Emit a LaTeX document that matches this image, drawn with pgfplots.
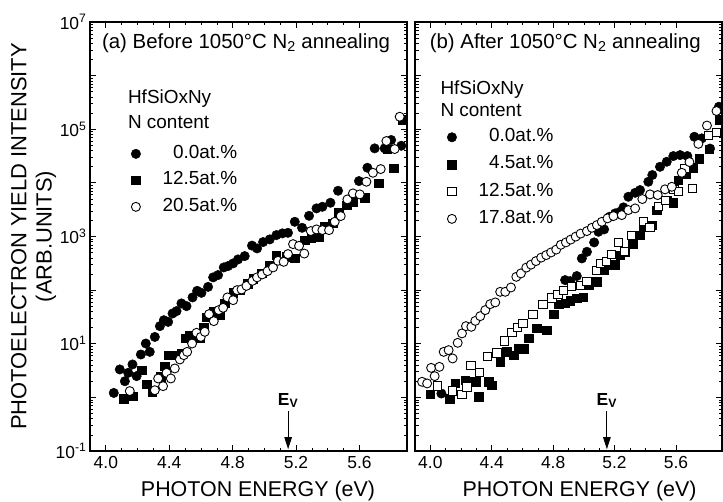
\documentclass[border=0pt]{standalone}
\usepackage{fontspec}
\setmainfont{Liberation Sans}
\usepackage{pgfplots}
\pgfplotsset{compat=1.18}
\usetikzlibrary{arrows.meta}

\pgfplotsset{
  fcirc/.style={only marks, mark=*, mark size=4.7bp, mark options={draw=black, fill=black, line width=0.5pt}},
  ocirc/.style={only marks, mark=*, mark size=4.5bp, mark options={draw=black, fill=white, line width=0.9pt}},
  fsq/.style={only marks, mark=square*, mark size=4.3bp, mark options={draw=black, fill=black, line width=0.5pt}},
  osq/.style={only marks, mark=square*, mark size=4.1bp, mark options={draw=black, fill=white, line width=0.9pt}},
}

\begin{document}
\begin{tikzpicture}
% ---------------- panel (a) ----------------
\begin{axis}[
    scale only axis, height=429bp, width=317bp,
    ymode=log, xmin=3.9, xmax=5.9, ymin=1e-1, ymax=1e7,
    xtick={4.0,4.4,4.8,5.2,5.6}, xticklabels={4.0,4.4,4.8,5.2,5.6},
    minor x tick num=3,
    ytick={1e-1,1,10,100,1e3,1e4,1e5,1e6,1e7},
    minor ytick={0.2,0.3,0.4,0.5,0.6,0.7,0.8,0.9,
                 2,3,4,5,6,7,8,9,
                 20,30,40,50,60,70,80,90,
                 200,300,400,500,600,700,800,900,
                 2000,3000,4000,5000,6000,7000,8000,9000,
                 2e4,3e4,4e4,5e4,6e4,7e4,8e4,9e4,
                 2e5,3e5,4e5,5e5,6e5,7e5,8e5,9e5,
                 2e6,3e6,4e6,5e6,6e6,7e6,8e6,9e6},
    tick align=inside, tick pos=both,
    major tick length=6bp, minor tick length=3.5bp,
    axis line style={line width=1.1pt},
    every tick/.style={black, line width=0.8pt},
    every minor tick/.style={black, line width=0.6pt},
    tick label style={font=\fontsize{17.5}{17.5}\selectfont},
    xticklabel style={yshift=-2bp},
    yticklabels={10\textsuperscript{-1},,10\textsuperscript{1},,10\textsuperscript{3},,10\textsuperscript{5},,10\textsuperscript{7}},
    xlabel={PHOTON ENERGY (eV)},
    xlabel style={at={(axis description cs:0.53,-0.107)}, anchor=base, font=\fontsize{21.5}{21.5}\selectfont, inner sep=0pt},
    ylabel={PHOTOELECTRON YIELD INTENSITY\\(ARB.UNITS)},
    ylabel style={at={(axis description cs:-0.106,0.5)}, anchor=south, align=center,
      font=\fontsize{22}{25.5}\selectfont, inner sep=0pt},
    legend cell align=left,
    legend style={at={(axis cs:4.16,5.01e4)}, draw=none, fill=none, inner sep=0pt, outer sep=0pt,
      anchor=north west, row sep=9.5bp, column sep=22bp,
      font=\fontsize{19}{19}\selectfont,
      nodes={inner sep=0pt, text height=13bp, text depth=4bp}},
    /pgf/number format/assume math mode=true,
]
\addplot[fcirc] coordinates {
(4.050,1.21) (4.088,3.32) (4.120,2.0) (4.141,2.87) (4.168,4.11) (4.194,2.49)
(4.221,6.31) (4.252,10.1) (4.277,7.06) (4.309,13.4) (4.341,21.3) (4.366,27.5)
(4.393,25.6) (4.421,36.7) (4.446,40.6) (4.477,56.5) (4.509,50.3) (4.547,73.1)
(4.576,97) (4.603,89) (4.645,115) (4.677,173) (4.708,191) (4.744,265) (4.771,281)
(4.803,315) (4.834,374) (4.876,431) (4.922,676) (4.954,600) (4.992,787) (5.034,883)
(5.076,1062) (5.114,1143) (5.149,1172) (5.192,1880) (5.238,1453) (5.282,2432)
(5.329,3342) (5.366,3581) (5.417,4256) (5.465,7126) (5.597,10800) (5.650,19140)
(5.696,44000) (5.759,44000) (5.800,63000) (5.864,49200)
};
\addlegendentry{\phantom{1}0.0at.\%}
\addplot[fsq] coordinates {
(4.113,0.95) (4.172,1.05) (4.225,3.22) (4.257,1.76) (4.294,1.27) (4.347,2.41)
(4.372,3.82) (4.393,6.13) (4.424,6.13) (4.477,6.59) (4.503,12.6) (4.530,14.5)
(4.593,12.6) (4.618,20.1) (4.637,31.3) (4.677,39.4) (4.719,34.2) (4.750,56.5) (4.803,89)
(4.845,100) (4.897,133) (4.929,165) (4.982,205) (5.030,290) (5.076,450) (5.143,418)
(5.192,390) (5.255,857) (5.297,922) (5.345,962) (5.381,1563) (5.433,1755)
(5.471,2768) (5.518,3853) (5.559,4440) (5.633,5275) (5.721,9790) (5.776,42200)
(5.818,18660) (5.875,148500)
};
\addlegendentry{12.5at.\%}
\addplot[ocirc] coordinates {
(4.151,1.31) (4.309,1.36) (4.330,2.25) (4.361,1.62) (4.383,2.87) (4.410,2.25)
(4.435,3.46) (4.467,5.09) (4.492,6.13) (4.513,7.06) (4.544,10.1) (4.572,16.0)
(4.599,13.4) (4.624,16.7) (4.651,35.7) (4.681,26.4) (4.712,42.4) (4.740,46.8)
(4.767,73.1) (4.803,65) (4.828,100) (4.856,103) (4.887,120) (4.925,149)
(4.954,173) (4.986,196) (5.020,226) (5.055,265) (5.086,352) (5.122,337)
(5.149,470) (5.181,721) (5.219,670) (5.252,480) (5.293,1262) (5.329,1356)
(5.366,1316) (5.408,1316) (5.444,1880) (5.482,2403) (5.524,4920) (5.559,6370)
(5.602,6100) (5.644,10490) (5.685,15420) (5.734,18080) (5.770,60250)
(5.822,42730) (5.854,171000)
};
\addlegendentry{20.5at.\%}
\node[anchor=base west, font=\fontsize{20.5}{20.5}\selectfont, inner sep=0pt]
  at (axis cs:3.975,3.27e6) {(a) Before 1050°C N\textsubscript{2} annealing};
\node[anchor=base west, font=\fontsize{19}{19}\selectfont, inner sep=0pt]
  at (axis cs:4.139,3.04e5) {HfSiOxNy};
\node[anchor=base west, font=\fontsize{19}{19}\selectfont, inner sep=0pt]
  at (axis cs:4.139,1.05e5) {N content};
\node[anchor=base, font=\bfseries\fontsize{17.5}{17.5}\selectfont, inner sep=0pt]
  at (axis cs:5.15,0.715) {E\textsubscript{V}};
\draw[-{Triangle[length=12bp,width=7.5bp]}, line width=0.9pt]
  (axis cs:5.15,0.553) -- (axis cs:5.15,0.108);
\end{axis}

% ---------------- panel (b) ----------------
\begin{axis}[at={(325bp,0)}, anchor=south west,
    scale only axis, height=429bp, width=307bp,
    ymode=log, xmin=3.9, xmax=5.9, ymin=1e-1, ymax=1e7,
    xtick={4.0,4.4,4.8,5.2,5.6}, xticklabels={4.0,4.4,4.8,5.2,5.6},
    minor x tick num=3,
    ytick={1e-1,1,10,100,1e3,1e4,1e5,1e6,1e7},
    minor ytick={0.2,0.3,0.4,0.5,0.6,0.7,0.8,0.9,
                 2,3,4,5,6,7,8,9,
                 20,30,40,50,60,70,80,90,
                 200,300,400,500,600,700,800,900,
                 2000,3000,4000,5000,6000,7000,8000,9000,
                 2e4,3e4,4e4,5e4,6e4,7e4,8e4,9e4,
                 2e5,3e5,4e5,5e5,6e5,7e5,8e5,9e5,
                 2e6,3e6,4e6,5e6,6e6,7e6,8e6,9e6},
    tick align=inside, tick pos=both,
    major tick length=6bp, minor tick length=3.5bp,
    axis line style={line width=1.1pt},
    every tick/.style={black, line width=0.8pt},
    every minor tick/.style={black, line width=0.6pt},
    tick label style={font=\fontsize{17.5}{17.5}\selectfont},
    xticklabel style={yshift=-2bp},
    yticklabels={},
    xlabel={PHOTON ENERGY (eV)},
    xlabel style={at={(axis description cs:0.536,-0.107)}, anchor=base, font=\fontsize{21.5}{21.5}\selectfont, inner sep=0pt},
    legend cell align=left,
    legend style={at={(axis cs:4.11,1.02e5)}, draw=none, fill=none, inner sep=0pt, outer sep=0pt,
      anchor=north west, row sep=10.2bp, column sep=22bp,
      font=\fontsize{19}{19}\selectfont,
      nodes={inner sep=0pt, text height=13bp, text depth=4bp}},
    /pgf/number format/assume math mode=true,
]
\addplot[fcirc] coordinates {
(4.072,1.18) (4.878,154) (4.911,147) (4.954,183) (4.987,390) (5.020,518)
(5.067,776) (5.095,1224) (5.132,1356) (5.167,2333) (5.204,2700) (5.236,2890)
(5.258,3490) (5.290,5510) (5.334,6530) (5.366,7340) (5.420,10490) (5.446,14000)
(5.496,19950) (5.540,24770) (5.583,31620) (5.627,33000) (5.674,31620)
(5.720,72400) (5.768,67600) (5.822,43600) (5.880,263000)
};
\addlegendentry{\phantom{1}0.0at.\%}
\addplot[fsq] coordinates {
(4.000,1.15) (4.126,0.95) (4.163,1.82) (4.228,2.09) (4.260,1.95) (4.299,1.95)
(4.314,1.02) (4.379,1.95) (4.401,1.69) (4.455,4.6) (4.499,7.06) (4.542,6.13)
(4.575,8.17) (4.607,8.17) (4.640,12.6) (4.694,19.3) (4.759,17.9) (4.802,35.7)
(4.835,54.8) (4.878,56.5) (4.911,63.1) (4.954,70) (4.997,73.1) (5.030,124)
(5.085,143) (5.128,236) (5.171,293) (5.204,299) (5.236,450) (5.269,518)
(5.317,721) (5.366,1062) (5.388,1517) (5.442,1633) (5.475,3110) (5.540,4780)
(5.583,4256) (5.615,11270) (5.666,14590) (5.713,19280) (5.753,28400)
(5.817,42200) (5.887,151700)
};
\addlegendentry{\phantom{1}4.5at.\%}
\addplot[osq] coordinates {
(4.044,1.64) (4.145,1.32) (4.206,1.15) (4.239,1.57) (4.265,3.99) (4.321,2.91)
(4.373,5.7) (4.434,6.76) (4.481,11.3) (4.532,16) (4.568,20.1) (4.603,23.9)
(4.668,34.9) (4.733,54.8) (4.792,71.5) (4.831,84.2) (4.867,98) (4.917,116)
(4.976,124) (5.020,143) (5.080,231) (5.109,312) (5.147,348) (5.182,470)
(5.225,787) (5.262,518) (5.312,1062) (5.388,1880) (5.431,1479) (5.485,3581)
(5.529,4780) (5.587,7570) (5.615,6820) (5.659,18880) (5.709,8000)
(5.811,76250) (5.865,87900)
};
\addlegendentry{12.5at.\%}
\addplot[ocirc] coordinates {
(3.946,1.95) (3.979,1.82) (4.005,3.55) (4.028,2.49) (4.059,3.71) (4.087,7.06)
(4.119,7.6) (4.145,5.32) (4.178,10.4) (4.206,15.6) (4.232,21.3) (4.267,20.7)
(4.293,26.7) (4.325,32.7) (4.358,42.4) (4.390,54.8) (4.423,59) (4.455,93)
(4.488,93) (4.525,112) (4.560,177) (4.590,205) (4.625,263) (4.656,299)
(4.688,348) (4.722,404) (4.755,450) (4.787,505) (4.820,570) (4.850,700)
(4.883,776) (4.914,875) (4.947,995) (4.979,1132) (5.020,1262) (5.052,1453)
(5.085,1633) (5.117,1880) (5.154,2178) (5.193,2403) (5.247,2507) (5.290,3110)
(5.334,3342) (5.381,4990) (5.431,6100) (5.481,5920) (5.529,7570) (5.573,8450)
(5.638,15420) (5.688,24430) (5.746,53400) (5.802,117200) (5.864,218700)
};
\addlegendentry{17.8at.\%}
\node[anchor=base west, font=\fontsize{20.5}{20.5}\selectfont, inner sep=0pt]
  at (axis cs:3.995,3.27e6) {(b) After 1050°C N\textsubscript{2} annealing};
\node[anchor=base west, font=\fontsize{19}{19}\selectfont, inner sep=0pt]
  at (axis cs:4.065,4.54e5) {HfSiOxNy};
\node[anchor=base west, font=\fontsize{19}{19}\selectfont, inner sep=0pt]
  at (axis cs:4.065,1.71e5) {N content};
\node[anchor=base, font=\bfseries\fontsize{17.5}{17.5}\selectfont, inner sep=0pt]
  at (axis cs:5.15,0.715) {E\textsubscript{V}};
\draw[-{Triangle[length=12bp,width=7.5bp]}, line width=0.9pt]
  (axis cs:5.15,0.553) -- (axis cs:5.15,0.108);
\end{axis}
\pgfresetboundingbox
\useasboundingbox (-90bp,-51bp) rectangle (633bp,451bp);
\end{tikzpicture}
\end{document}
